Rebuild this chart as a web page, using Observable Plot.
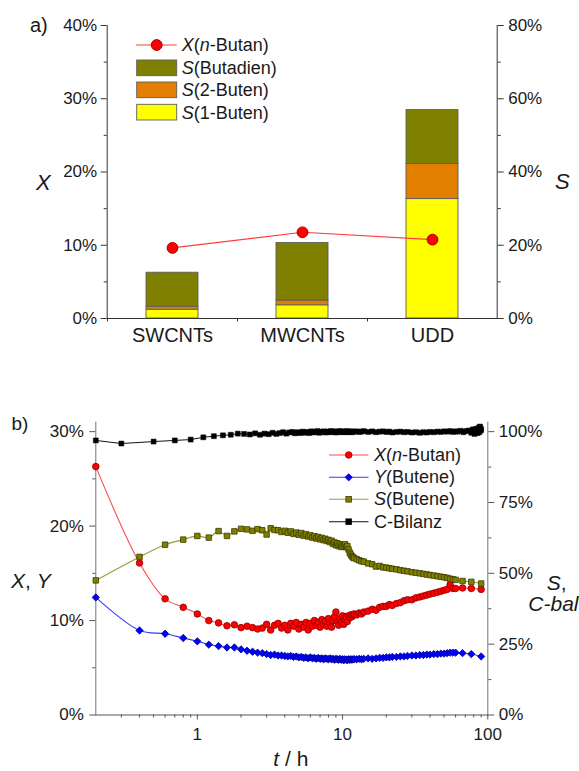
<!DOCTYPE html>
<html><head><meta charset="utf-8">
<script src="https://cdn.jsdelivr.net/npm/d3@7"></script>
<script src="https://cdn.jsdelivr.net/npm/@observablehq/plot@0.6"></script>
<style>
body{margin:0;background:#fff;}
#wrap{position:relative;width:579px;height:771px;font-family:Arial,"Liberation Sans",Helvetica,sans-serif;color:#1a1a1a;overflow:hidden;background:#fff}
.lbl{position:absolute;white-space:nowrap;line-height:1;}
.pl{position:absolute;left:0;}
#ovl{position:absolute;left:0;top:0;pointer-events:none}
</style></head><body>
<div id="wrap"></div>
<script>
// ---------- panel a data ----------
const catsA = ["SWCNTs", "MWCNTs", "UDD"];
const convA = [9.64, 11.77, 10.77];          // X(n-Butan) in %
const sel1Buten = [2.4, 3.6, 32.6];          // S(1-Buten) in %
const sel2Buten = [0.8, 1.3, 9.6];           // S(2-Buten) in %
const selButadien = [9.3, 15.7, 14.7];       // S(Butadien) in %
const compNames = ["S(1-Buten)", "S(2-Buten)", "S(Butadien)"];
const compColors = ["#ffff00", "#e27f00", "#808000"];
const ticksLeftA = [0, 10, 20, 30, 40];
const minorLeftA = [5, 15, 25, 35];

// ---------- panel b data ----------
const tB = [0.2,0.4,0.6,0.8,1.0,1.2,1.4,1.6,1.8,2.0,2.2,2.4,2.6,2.8,
  3.0,3.2,3.4,3.6,3.8,4.0,4.2,4.4,4.6,4.8,
  5.0,5.2,5.4,5.6,5.8,6.0,6.2,6.4,6.6,6.8,
  7.0,7.2,7.4,7.6,7.8,8.0,8.2,8.4,8.6,8.8,
  9.0,9.2,9.4,9.6,9.8,10.0,10.2,10.4,10.6,10.8,
  11.0,11.2,11.4,11.6,11.8,12.0,
  12.5,13,13.5,14,15,16,17,18,19,20,
  21,22,23.5,25,26.5,28,30,32,34,36,
  38,40,42.5,45,47.5,50,52.5,55,57.5,60,
  67,77,90];
const xButan = [26.3,16.1,12.3,11.4,10.7,10.0,9.75,9.45,9.55,9.25,9.4,9.25,9.1,9.2,
  9.6,9.0,9.5,9.7,9.2,9.5,9.0,9.7,9.4,9.8,
  9.1,9.6,9.3,9.8,9.0,9.7,9.4,10.0,9.5,9.8,
  9.3,10.1,9.6,9.9,9.4,10.2,9.7,9.3,10.0,10.4,
  10.9,9.9,9.5,10.2,9.8,10.5,9.6,10.1,10.4,9.9,
  10.5,10.3,10.6,10.4,10.6,10.7,
  10.6,10.8,10.7,10.9,11.0,11.2,11.1,11.4,11.5,11.5,
  11.7,11.6,11.8,11.9,12.1,12.2,12.2,12.4,12.5,12.6,
  12.7,12.8,12.9,13.0,13.1,13.2,13.3,13.8,13.4,13.4,
  13.45,13.4,13.3];
const yButene = [12.45,8.95,8.6,8.15,7.8,7.45,7.3,7.15,7.15,6.95,6.8,6.7,6.6,6.55,
  6.45,6.35,6.4,6.3,6.3,6.25,6.2,6.25,6.15,6.2,
  6.1,6.15,6.05,6.1,6.0,6.1,6.0,6.05,5.95,6.05,
  5.95,6.0,5.9,6.0,5.95,5.9,6.0,5.9,5.95,5.85,
  5.95,5.9,5.85,5.95,5.85,5.9,5.8,5.9,5.85,5.8,
  5.9,5.85,5.9,5.85,5.9,5.9,
  5.9,5.95,5.9,5.95,6.0,5.95,6.0,6.05,6.05,6.1,
  6.1,6.15,6.15,6.2,6.2,6.25,6.3,6.3,6.35,6.35,
  6.4,6.4,6.45,6.45,6.5,6.5,6.55,6.6,6.6,6.6,
  6.55,6.45,6.2];
const sButene = [47.5,55.8,60.1,61.9,63.2,62.6,64.9,63.2,64.8,65.7,65.5,65.0,65.6,65.2,
  63.7,65.9,65.3,65.2,64.6,65.0,64.3,64.8,63.9,64.4,
  63.6,64.2,63.3,63.8,63.0,63.4,62.6,63.1,62.3,62.8,
  62.0,62.5,61.7,62.2,61.4,61.8,61.0,61.5,60.4,60.9,
  59.9,60.6,59.6,60.2,59.3,60.0,59.5,60.3,59.2,59.6,
  58.4,57.3,56.6,56.0,55.6,55.4,
  55.0,54.6,54.3,54.1,53.5,53.2,52.4,52.6,52.1,52.0,
  51.8,51.6,51.4,51.1,50.9,50.7,50.4,50.2,50.0,49.8,
  49.6,49.4,49.2,49.0,48.8,48.6,48.4,48.1,47.9,47.7,
  47.3,47.0,46.4];
const tC = [0.2,0.3,0.5,0.7,0.9,1.1,1.3,1.5,1.7,1.9,
  2.1,2.3,2.5,2.7,2.9,3.1,3.3,3.5,3.7,3.9,
  4.1,4.3,4.5,4.7,4.9,5.1,5.3,5.5,5.7,5.9,
  6.1,6.3,6.5,6.7,6.9,7.1,7.3,7.5,7.7,7.9,
  8.1,8.3,8.5,8.7,8.9,9.1,9.3,9.5,9.7,9.9,
  10.1,10.3,10.5,10.7,10.9,11.1,11.3,11.5,11.7,11.9,
  12.5,13,13.5,14,15,16,17,18,19,20,
  21,22,23.5,25,26.5,28,30,32,34,36,
  38,40,42.5,45,47.5,50,52.5,55,57.5,60,
  62,65,68,71,74,77,79,81,83,85,86.5,87.5,88.5,89.5,90];
const cBilanz = [96.9,95.8,96.5,96.9,97.2,98.0,98.4,98.7,98.9,99.3,
  99.2,99.0,99.4,98.9,99.3,99.1,99.6,99.2,99.5,99.8,
  99.3,99.7,99.9,99.4,99.8,99.5,100.0,99.6,99.9,99.5,
  100.1,99.7,99.9,100.2,99.6,100.0,99.8,100.1,99.7,100.0,
  99.8,100.2,99.9,100.1,99.7,100.0,99.8,100.2,99.9,100.1,
  99.8,100.0,99.9,100.2,99.8,100.0,99.9,100.1,99.8,100.0,
  100.1,99.9,100.0,100.2,99.9,100.1,99.8,100.0,100.1,99.9,
  100.0,99.7,99.9,100.0,99.8,99.9,99.7,99.8,99.6,99.8,
  99.7,99.9,99.8,100.0,99.9,100.1,100.0,100.2,99.9,100.1,
  100.0,100.3,99.8,100.2,100.4,99.6,100.8,99.2,101.0,99.5,101.4,99.8,101.8,100.4,100.9];
const ticksLeftB = [0, 10, 20, 30];
const minorLeftB = [5, 15, 25];
const ticksRightB = [0, 25, 50, 75, 100];
const minorRightB = [12.5, 37.5, 62.5, 87.5];
const ticksXB = [1, 10, 100];
const minorXB = [0.3,0.4,0.5,0.6,0.7,0.8,0.9,2,3,4,5,6,7,8,9,20,30,40,50,60,70,80,90];

const FONT = 'Arial, "Liberation Sans", Helvetica, sans-serif';
const wrap = document.getElementById("wrap");

// ---------- panel a ----------
const stackRows = [];
catsA.forEach((c, i) => {
  stackRows.push({cat: c, comp: compNames[0], S: sel1Buten[i]});
  stackRows.push({cat: c, comp: compNames[1], S: sel2Buten[i]});
  stackRows.push({cat: c, comp: compNames[2], S: selButadien[i]});
});
const convRows = catsA.map((c, i) => ({cat: c, X: convA[i]}));
const kA = 40 / 80; // S-axis -> X-axis
const WA = 579, mLA = 106.7, mRA = 82.3;
const stepA = (WA - mLA - mRA) / catsA.length;
const axA = "#333";

const plotA = Plot.plot({
  width: WA, height: 380,
  marginLeft: mLA, marginRight: mRA, marginTop: 25, marginBottom: 62,
  style: {fontFamily: FONT, fontSize: "17px", color: "#1a1a1a", background: "transparent", overflow: "visible"},
  x: {type: "band", domain: catsA, paddingInner: 0.6, paddingOuter: 0.3, axis: null},
  y: {domain: [0, 40], axis: null},
  color: {domain: compNames, range: compColors},
  marks: [
    Plot.barY(stackRows, {x: "cat", y: d => d.S * kA, fill: "comp", order: compNames, stroke: "#5c5c5c", strokeWidth: 0.9}),
    Plot.frame({anchor: "left", stroke: axA}),
    Plot.frame({anchor: "right", stroke: axA}),
    Plot.frame({anchor: "bottom", stroke: axA}),
    Plot.axisY({anchor: "left", ticks: ticksLeftA, tickFormat: d => d + "%", tickSize: 6, tickPadding: 4, label: null, stroke: axA}),
    Plot.axisY({anchor: "left", ticks: minorLeftA, tickSize: 3, tickFormat: () => "", label: null, stroke: axA}),
    Plot.axisY({anchor: "right", ticks: ticksLeftA, tickFormat: d => (d / kA) + "%", tickSize: 6, tickPadding: 5, label: null, stroke: axA}),
    Plot.axisY({anchor: "right", ticks: minorLeftA, tickSize: 3, tickFormat: () => "", label: null, stroke: axA}),
    Plot.axisX({anchor: "bottom", tickSize: 0, tickPadding: 9, fontSize: 20, label: null}),
    Plot.axisX({anchor: "bottom", tickSize: 3.5, tickFormat: () => "", dx: -stepA / 2, label: null, stroke: axA}),
    Plot.line(convRows, {x: "cat", y: "X", stroke: "#ff3d3d", strokeWidth: 1.1}),
    Plot.dot(convRows, {x: "cat", y: "X", r: 5.4, fill: "#ff0000", stroke: "#a00000", strokeWidth: 1})
  ]
});
plotA.classList.add("pl");
plotA.style.top = "0px";
wrap.appendChild(plotA);

// ---------- panel b ----------
const kB = 30 / 100; // S-axis -> X-axis
const rowsX = tB.map((t, i) => ({t, v: xButan[i]}));
const rowsY = tB.map((t, i) => ({t, v: yButene[i]}));
const rowsS = tB.map((t, i) => ({t, v: sButene[i] * kB}));
const rowsC = tC.map((t, i) => ({t, v: cBilanz[i] * kB}));
const axB = "#555";

const plotB = Plot.plot({
  width: 579, height: 391,
  marginLeft: 95.3, marginRight: 91.7, marginTop: 41.7, marginBottom: 56.5,
  style: {fontFamily: FONT, fontSize: "17px", color: "#1a1a1a", background: "transparent", overflow: "visible"},
  x: {type: "log", domain: [0.2, 100], axis: null},
  y: {domain: [0, 31], axis: null},
  marks: [
    Plot.frame({anchor: "left", stroke: "#777"}),
    Plot.frame({anchor: "right", stroke: "#777"}),
    Plot.frame({anchor: "bottom", stroke: axB}),
    Plot.axisY({anchor: "left", ticks: ticksLeftB, tickFormat: d => d + "%", tickSize: 6, tickPadding: 6, label: null, stroke: axB}),
    Plot.axisY({anchor: "left", ticks: minorLeftB, tickSize: 3, tickFormat: () => "", label: null, stroke: axB}),
    Plot.axisY({anchor: "right", ticks: ticksRightB.map(v => v * kB), tickFormat: d => Math.round(d / kB) + "%", tickSize: 6, tickPadding: 5, label: null, stroke: axB}),
    Plot.axisY({anchor: "right", ticks: minorRightB.map(v => v * kB), tickSize: 3, tickFormat: () => "", label: null, stroke: axB}),
    Plot.axisX({anchor: "bottom", ticks: ticksXB, tickFormat: d => String(d), tickSize: 5, tickPadding: 8, label: null, stroke: axB}),
    Plot.axisX({anchor: "bottom", ticks: minorXB, tickFormat: () => "", tickSize: 3, label: null, stroke: axB}),
    Plot.line(rowsC, {x: "t", y: "v", stroke: "#111", strokeWidth: 1}),
    Plot.dot(rowsC, {x: "t", y: "v", symbol: "square", r: 2.8, fill: "#000", stroke: "#000", strokeWidth: 0.5}),
    Plot.line(rowsX, {x: "t", y: "v", stroke: "#ff4a4a", strokeWidth: 1.1, curve: "catmull-rom"}),
    Plot.dot(rowsX, {x: "t", y: "v", r: 3.3, fill: "#ff0000", stroke: "#8c0000", strokeWidth: 0.8}),
    Plot.line(rowsY, {x: "t", y: "v", stroke: "#3b3bff", strokeWidth: 1.1, curve: "catmull-rom"}),
    Plot.dot(rowsY, {x: "t", y: "v", symbol: "diamond2", r: 3.3, fill: "#0000ff", stroke: "#00008c", strokeWidth: 0.8}),
    Plot.line(rowsS, {x: "t", y: "v", stroke: "#9a9a3a", strokeWidth: 1.1, curve: "catmull-rom"}),
    Plot.dot(rowsS, {x: "t", y: "v", symbol: "square", r: 3.1, fill: "#808000", stroke: "#3c3c00", strokeWidth: 0.8})
  ]
});
plotB.classList.add("pl");
plotB.style.top = "380px";
wrap.appendChild(plotB);

// ---------- text labels (HTML) ----------
function label(html, x, cy, size, anchor) {
  const d = document.createElement("div");
  d.className = "lbl";
  d.innerHTML = html;
  d.style.fontSize = size + "px";
  d.style.top = (cy - size / 2) + "px";
  d.style.left = x + "px";
  if (anchor === "middle") d.style.transform = "translateX(-50%)";
  wrap.appendChild(d);
}
label("a)", 30, 25, 20);
label("<i>X</i>", 36, 183, 22);
label("<i>S</i>", 555, 182, 22);
label("b)", 11.5, 423, 19);
label("<i>X</i>, <i>Y</i>", 11, 580, 21);
label("<i>S</i>,", 546.7, 582, 21);
label("<i>C-bal</i>", 528.3, 603.5, 21);
label("<i>t</i> / h", 290.8, 758.6, 21, "middle");

// legend a
label("<i>X</i>(<i>n</i>-Butan)", 181.7, 45, 18);
label("<i>S</i>(Butadien)", 181.7, 68, 18);
label("<i>S</i>(2-Buten)", 181.7, 90, 18);
label("<i>S</i>(1-Buten)", 181.7, 112.5, 18);
// legend b
label("<i>X</i>(<i>n</i>-Butan)", 374, 455, 18);
label("<i>Y</i>(Butene)", 374, 477.3, 18);
label("<i>S</i>(Butene)", 374, 499.3, 18);
label("C-Bilanz", 374, 521.7, 18);

// legend swatches
const ns = "http://www.w3.org/2000/svg";
const ovl = document.createElementNS(ns, "svg");
ovl.setAttribute("id", "ovl");
ovl.setAttribute("width", 579);
ovl.setAttribute("height", 771);
function el(tag, attrs) {
  const e = document.createElementNS(ns, tag);
  for (const k in attrs) e.setAttribute(k, attrs[k]);
  ovl.appendChild(e);
  return e;
}
// a
el("line", {x1: 136, x2: 176.7, y1: 45, y2: 45, stroke: "#ff3d3d", "stroke-width": 1.1});
el("circle", {cx: 156.7, cy: 45, r: 5.4, fill: "#ff0000", stroke: "#a00000"});
[[60, compColors[2]], [82, compColors[1]], [104.3, compColors[0]]].forEach(([y, c]) => {
  el("rect", {x: 136.7, y: y, width: 40, height: 15.7, fill: c, stroke: "#5c5c5c", "stroke-width": 0.9});
});
// b
const legB = [
  [455, "#ff4a4a", "circle", "#ff0000", "#8c0000"],
  [477.3, "#3b3bff", "diamond", "#0000ff", "#00008c"],
  [499.3, "#9a9a3a", "square", "#808000", "#3c3c00"],
  [521.7, "#111", "square", "#000", "#000"]
];
legB.forEach(([y, lc, sym, f, s]) => {
  el("line", {x1: 329, x2: 368.5, y1: y, y2: y, stroke: lc, "stroke-width": 1.1});
  const cx = 348.7;
  if (sym === "circle") el("circle", {cx, cy: y, r: 3.3, fill: f, stroke: s, "stroke-width": 0.8});
  else if (sym === "square") el("rect", {x: cx - 2.8, y: y - 2.8, width: 5.6, height: 5.6, fill: f, stroke: s, "stroke-width": 0.8});
  else el("path", {d: `M${cx},${y - 3.6}L${cx + 3.6},${y}L${cx},${y + 3.6}L${cx - 3.6},${y}Z`, fill: f, stroke: s, "stroke-width": 0.8});
});
wrap.appendChild(ovl);
</script>
</body></html>
